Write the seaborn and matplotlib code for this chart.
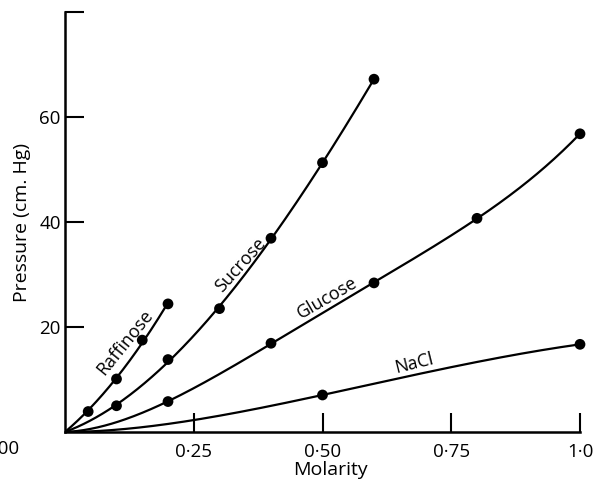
import numpy as np
import pandas as pd
import seaborn as sns
import matplotlib.pyplot as plt

# ---- data ----
raff_x = [0.045, 0.10, 0.15, 0.20]
raff_y = [3.9, 10.1, 17.5, 24.4]
sucr_x = [0.10, 0.20, 0.30, 0.40, 0.50, 0.60]
sucr_y = [5.0, 13.8, 23.5, 36.9, 51.3, 67.2]
gluc_x = [0.20, 0.40, 0.60, 0.80, 1.00]
gluc_y = [5.8, 16.9, 28.4, 40.7, 56.8]
nacl_x = [0.50, 1.00]
nacl_y = [7.05, 16.7]

x_ticks = [0.25, 0.50, 0.75, 1.00]
x_tick_labels = ["0·25", "0·50", "0·75", "1·0"]
y_ticks = [20, 40, 60, 80]
y_tick_labels = ["20", "40", "60", ""]


def through_origin_fit(x, y, powers, xx):
    """Smooth least-squares curve forced through the origin."""
    x = np.asarray(x, float)
    A = np.vstack([x ** p for p in powers]).T
    coef, *_ = np.linalg.lstsq(A, np.asarray(y, float), rcond=None)
    return sum(c * xx ** p for c, p in zip(coef, powers))


series = {
    "Raffinose": (raff_x, raff_y, [1, 2]),
    "Sucrose": (sucr_x, sucr_y, [1, 2, 3]),
    "Glucose": (gluc_x, gluc_y, [1, 2, 3, 4]),
    "NaCl": (nacl_x, nacl_y, [2, 2.5]),
}

sns.set_theme(style="ticks")
plt.rcParams["font.family"] = ["Open Sans", "DejaVu Sans"]
plt.rcParams["text.color"] = "black"
plt.rcParams["axes.labelcolor"] = "black"

fig = plt.figure(figsize=(5.93, 4.82), dpi=100)
ax = fig.add_axes([65 / 593, 50 / 482, 515 / 593, 420 / 482])

pts_rows = []
curve_rows = []
for name, (xs, ys, powers) in series.items():
    xx = np.linspace(0, max(xs), 300)
    yy = through_origin_fit(xs, ys, powers, xx)
    curve_rows += [{"series": name, "x": a, "y": b} for a, b in zip(xx, yy)]
    pts_rows += [{"series": name, "x": a, "y": b} for a, b in zip(xs, ys)]

curves = pd.DataFrame(curve_rows)
pts = pd.DataFrame(pts_rows)
pal = {k: "black" for k in series}

sns.lineplot(data=curves, x="x", y="y", hue="series", palette=pal,
             sort=False, estimator=None, lw=1.6, legend=False, ax=ax)
sns.scatterplot(data=pts, x="x", y="y", hue="series", palette=pal,
                s=60, edgecolor="black", linewidth=0, legend=False,
                ax=ax, zorder=5)
for coll in ax.collections:
    coll.set_clip_on(False)

ax.set_xlim(0, 1.0)
ax.set_ylim(0, 80)
ax.set_xticks(x_ticks)
ax.set_xticklabels(x_tick_labels)
ax.set_yticks(y_ticks)
ax.set_yticklabels(y_tick_labels)
ax.tick_params(direction="in", length=14, width=1.5, labelsize=13.5,
               colors="black")
ax.tick_params(axis="x", pad=8)
ax.tick_params(axis="y", pad=3)
sns.despine(ax=ax)
for s in ["left", "bottom"]:
    ax.spines[s].set_linewidth(1.8)
    ax.spines[s].set_color("black")

ax.set_xlabel("Molarity", fontsize=14)
ax.set_ylabel("Pressure (cm. Hg)", fontsize=14, labelpad=6)
ax.xaxis.set_label_coords(0.515, -0.068)

# stray origin label seen at the far left (cut by the edge in the reference)
ax.text(-0.125, -3.3, "0·00", fontsize=13.5, ha="center", va="center",
        clip_on=False)

# curve labels
ax.text(0.116, 17.1, "Raffinose", fontsize=13, rotation=51,
        ha="center", va="center")
ax.text(0.34, 31.8, "Sucrose", fontsize=13, rotation=48,
        ha="center", va="center")
ax.text(0.509, 25.6, "Glucose", fontsize=13, rotation=30,
        ha="center", va="center")
ax.text(0.678, 13.0, "NaCl", fontsize=13, rotation=14,
        ha="center", va="center")

fig.savefig("out.png", dpi=100)
